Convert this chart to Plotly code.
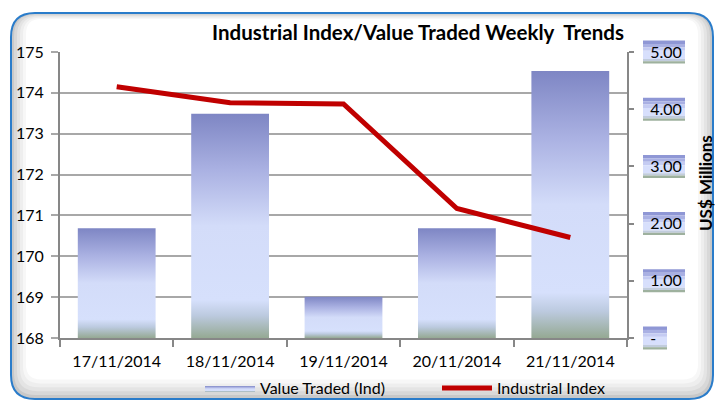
import plotly.graph_objects as go

dates = ["17/11/2014", "18/11/2014", "19/11/2014", "20/11/2014", "21/11/2014"]
value_traded = [1.92, 3.92, 0.72, 1.92, 4.67]          # US$ millions (right axis)
industrial_index = [174.15, 173.76, 173.73, 171.17, 170.46]  # left axis
left_ticks = [168, 169, 170, 171, 172, 173, 174, 175]
right_ticks = [0, 1, 2, 3, 4, 5]
right_ticktext = ["-", "1.00", "2.00", "3.00", "4.00", "5.00"]

W, H = 715, 401
L, R, T, B = 60, 627, 52, 338
pw, ph = R - L, B - T
FONT = "Lato"

def px(x):
    return (x - L) / pw

def py(y):
    return (B - y) / ph

fig = go.Figure()

bar_half = 0.343
bar_scale = [[0, "#95a993"], [0.1, "#bccadf"], [0.17, "#d6e0fc"], [0.5, "#d3dcf9"],
             [0.75, "#aab1e2"], [1, "#7e86c4"]]
xs = list(range(len(dates)))
# bars on base y axis (right side), line on overlaying y2 (left side) so the line is on top
for i, v in enumerate(value_traded):
    fig.add_trace(go.Scatter(
        x=[i - bar_half, i + bar_half, i + bar_half, i - bar_half, i - bar_half],
        y=[0, 0, v, v, 0], yaxis="y", mode="lines", fill="toself",
        line=dict(width=0, color="rgba(0,0,0,0)"),
        fillgradient=dict(type="vertical", colorscale=bar_scale),
        name="Value Traded (Ind)", legendgroup="vt", showlegend=(i == 0),
        hoverinfo="skip"))

fig.add_trace(go.Scatter(x=xs, y=industrial_index, mode="lines", yaxis="y2",
                         line=dict(color="#c00000", width=5),
                         name="Industrial Index"))

shapes = []

def rr_path(x0, y0, x1, y1, r):
    pts = [("M", [(x0 + r, y0)]), ("L", [(x1 - r, y0)]), ("Q", [(x1, y0), (x1, y0 + r)]),
           ("L", [(x1, y1 - r)]), ("Q", [(x1, y1), (x1 - r, y1)]), ("L", [(x0 + r, y1)]),
           ("Q", [(x0, y1), (x0, y1 - r)]), ("L", [(x0, y0 + r)]), ("Q", [(x0, y0), (x0 + r, y0)])]
    s = ""
    for cmd, ps in pts:
        s += cmd + " " + " ".join(f"{px(a):.5f},{py(b):.5f}" for a, b in ps) + " "
    return s + "Z"

fx0, fy0, fx1, fy1 = 11, 13, 713, 399
for d, col in [(0, "#c8c8c8"), (3, "#d8d8d8"), (6, "#e4e4e4"), (9, "#eeeeee"), (12, "#f7f7f7"), (15, "#ffffff")]:
    shapes.append(dict(type="path", xref="paper", yref="paper", layer="below",
                       path=rr_path(fx0 + d, fy0 + d * 0.4, fx1 - d, fy1 - d * 1.3, max(24 - d * 0.6, 8)),
                       fillcolor=col, line=dict(width=0)))
shapes.append(dict(type="path", xref="paper", yref="paper", layer="below",
                   path=rr_path(fx0, fy0, fx1, fy1, 24), line=dict(color="#2a7cca", width=2)))

# right tick label boxes
bands = [(0.0, 0.15, "#8f97d5"), (0.15, 0.3, "#a9b0e3"), (0.3, 0.45, "#c4cbf2"),
         (0.45, 0.8, "#d7dffc"), (0.8, 0.9, "#c1ccdd"), (0.9, 1.0, "#9eb19e")]
for v, t in zip(right_ticks, right_ticktext):
    bw = 42 if len(t) > 1 else 24
    yc = v / (right_ticks[-1] - right_ticks[0])
    hh = 11.5 / ph
    for a, b, col in bands:
        shapes.append(dict(type="rect", xref="paper", yref="paper", layer="below",
                           x0=px(643), x1=px(643 + bw),
                           y0=yc + hh - 2 * hh * b, y1=yc + hh - 2 * hh * a,
                           fillcolor=col, line=dict(width=0)))

fig.update_layout(
    width=W, height=H,
    margin=dict(l=L, r=W - R, t=T, b=H - B, autoexpand=False),
    paper_bgcolor="white", plot_bgcolor="rgba(0,0,0,0)",
    font=dict(family=FONT, size=16, color="#000000"),
    title=dict(text="<b>Industrial Index/Value Traded Weekly  Trends</b>",
               x=418 / W, xanchor="center", y=1 - 33 / H, yanchor="middle",
               font=dict(family=FONT, size=20.5, color="#000000")),
    xaxis=dict(range=[-0.5, len(dates) - 0.5], tickvals=xs, ticktext=dates,
               ticks="", showgrid=False, zeroline=False, automargin=False,
               showline=True, linecolor="#878787", linewidth=2,
               minor=dict(tickvals=[i - 0.5 for i in range(len(dates) + 1)],
                          ticks="outside", ticklen=7, tickcolor="#878787", tickwidth=2),
               tickfont=dict(size=16), ticklabelstandoff=8),
    yaxis=dict(range=[right_ticks[0], right_ticks[-1]], side="right",
               tickvals=right_ticks, ticktext=right_ticktext, showgrid=False,
               ticks="outside", ticklen=5, tickcolor="#878787", tickwidth=2,
               showline=True, linecolor="#878787", linewidth=2, zeroline=False,
               automargin=False, tickfont=dict(size=16), ticklabelstandoff=13),
    yaxis2=dict(range=[left_ticks[0], left_ticks[-1]], tickvals=left_ticks,
                overlaying="y", side="left",
                showgrid=True, gridcolor="#a8a8a8", gridwidth=2,
                ticks="outside", ticklen=7, tickcolor="#a8a8a8", tickwidth=2,
                showline=True, linecolor="#878787", linewidth=2, zeroline=False,
                automargin=False, tickfont=dict(size=16), ticklabelstandoff=4),
    legend=dict(orientation="h", x=px(200), xanchor="left", y=py(388), yanchor="middle",
                bgcolor="rgba(0,0,0,0)", font=dict(size=16), itemwidth=50,
                entrywidth=172, entrywidthmode="pixels", tracegroupgap=0),
    annotations=[dict(text="<b>US$ Millions</b>", xref="paper", yref="paper",
                      x=px(705), y=py(183), textangle=-90, showarrow=False,
                      font=dict(size=17), xanchor="center", yanchor="middle")],
    shapes=shapes,
    showlegend=True,
)

fig.write_html("out.html", post_script="document.body.style.margin='0px';",
               config={"displayModeBar": False})
